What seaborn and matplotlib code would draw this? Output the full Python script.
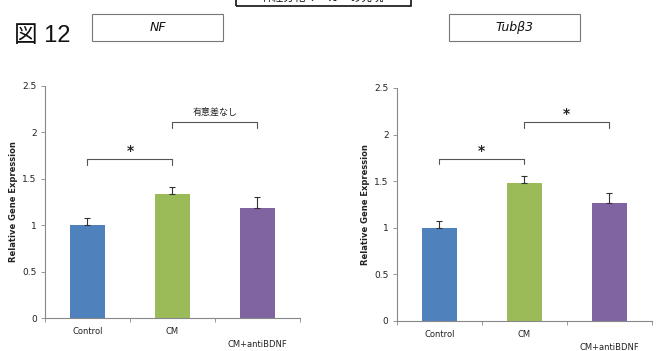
import matplotlib
matplotlib.use("Agg")
import matplotlib.pyplot as plt
import seaborn as sns
import pandas as pd
from matplotlib.patches import Rectangle
from matplotlib.ticker import FuncFormatter, FixedLocator

sns.set_theme(style="white")
plt.rcParams['font.family'] = ['DejaVu Sans', 'Noto Sans CJK JP']

categories = ["Control", "CM", "CM+antiBDNF"]
colors = ["#4F81BD", "#9BBB59", "#8064A2"]

nf_values = [1.0, 1.34, 1.19]
nf_errors = [0.08, 0.07, 0.11]
tub_values = [1.0, 1.48, 1.265]
tub_errors = [0.075, 0.075, 0.105]

yticks = [0, 0.5, 1, 1.5, 2, 2.5]

# brackets: (start index, end index, height, label)
nf_brackets = [(0, 1, 1.71, "*"), (1, 2, 2.11, "有意差なし")]
tub_brackets = [(0, 1, 1.74, "*"), (1, 2, 2.13, "*")]

fig = plt.figure(figsize=(6.57, 3.51), dpi=100)
fig.patch.set_facecolor("white")

ax1 = fig.add_axes([0.0685, 0.094, 0.388, 0.661])
ax2 = fig.add_axes([0.604, 0.0855, 0.388, 0.664])


def draw_panel(ax, values, errors, brackets):
    df = pd.DataFrame({"group": categories, "value": values})
    sns.barplot(data=df, x="group", y="value", hue="group", palette=colors,
                width=0.41, ax=ax, legend=False, saturation=1, edgecolor="none")
    xs = range(len(categories))
    ax.errorbar(list(xs), values, yerr=[[0] * len(errors), errors], fmt="none",
                ecolor="#333333", elinewidth=0.8, capsize=2.5, capthick=0.8)
    ax.set_ylim(0, 2.5)
    ax.set_xlim(-0.5, 2.5)
    ax.yaxis.set_major_locator(FixedLocator(yticks))
    ax.yaxis.set_major_formatter(FuncFormatter(lambda v, p: f"{v:g}"))
    ax.tick_params(axis="y", labelsize=6.5, length=3, width=0.6, color="#888888",
                   left=True, pad=3, labelcolor="#222222")
    # category separators on the x axis
    ax.xaxis.set_major_locator(FixedLocator([-0.5, 0.5, 1.5, 2.5]))
    ax.set_xticklabels([])
    ax.tick_params(axis="x", length=3, width=0.6, color="#888888", bottom=True)
    for i, name in enumerate(categories):
        yoff = -0.06 if i < 2 else -0.115
        ax.text(i, yoff, name, transform=ax.get_xaxis_transform(), ha="center",
                va="center", fontsize=6, color="#222222")
    for side in ["top", "right"]:
        ax.spines[side].set_visible(False)
    for side in ["left", "bottom"]:
        ax.spines[side].set_color("#888888")
        ax.spines[side].set_linewidth(0.8)
    ax.set_xlabel("")
    ax.set_ylabel("Relative Gene Expression", fontsize=6, fontweight="bold",
                  color="#222222", labelpad=3)
    for a, b, h, lab in brackets:
        ax.plot([a, a, b, b], [h - 0.06, h, h, h - 0.06], color="#555555", lw=0.8)
        if lab == "*":
            ax.text((a + b) / 2, h + 0.01, lab, ha="center", va="bottom",
                    fontsize=10, fontweight="bold", color="#222222")
        else:
            ax.text((a + b) / 2, h + 0.06, lab, ha="center", va="bottom",
                    fontsize=6.5, color="#222222",
                    family=["Noto Sans CJK JP", "DejaVu Sans"])


draw_panel(ax1, nf_values, nf_errors, nf_brackets)
draw_panel(ax2, tub_values, tub_errors, tub_brackets)

# figure heading and gene name boxes
fig.text(14 / 657, 1 - 36 / 351, "図 12", fontsize=17, va="center", ha="left",
         family=["Liberation Sans", "Noto Sans CJK JP"], color="#111111")


def name_box(x0, x1, label):
    y0, y1 = 1 - 41 / 351, 1 - 14 / 351
    fig.patches.append(Rectangle((x0 / 657, y0), (x1 - x0) / 657, y1 - y0,
                                 transform=fig.transFigure, fill=False,
                                 edgecolor="#777777", lw=0.8))
    fig.text((x0 + x1) / 2 / 657, (y0 + y1) / 2, label, ha="center", va="center",
             fontsize=9, style="italic", color="#111111")


name_box(92, 223, "NF")
name_box(449, 580, "Tubβ3")

# heading box running off the top edge
fig.patches.append(Rectangle((236 / 657, 1 - 6 / 351), 175 / 657, 30 / 351,
                             transform=fig.transFigure, fill=False,
                             edgecolor="#111111", lw=1.2))
fig.text(323 / 657, 1 + 3 / 351, "神経分化マーカーの発現", ha="center", va="center",
         fontsize=8, family=["Noto Sans CJK JP", "DejaVu Sans"], color="#111111")

fig.savefig("out.png", dpi=100, facecolor="white")
